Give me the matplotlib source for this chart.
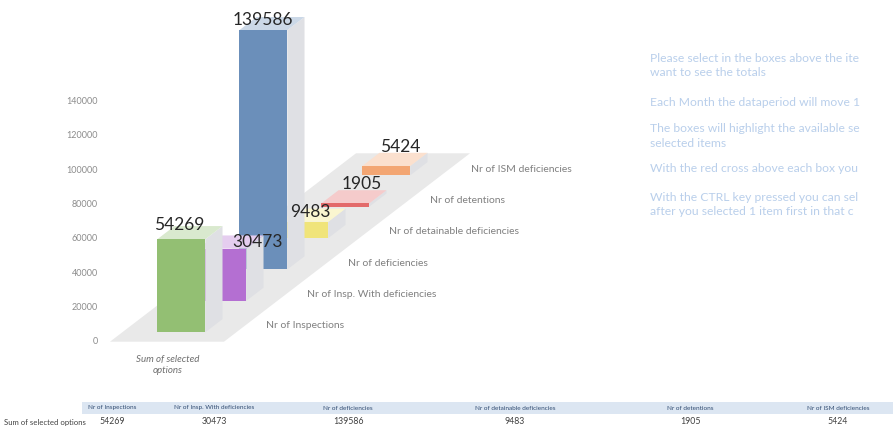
"""plot.py - pseudo-3D column chart of the selected inspection totals."""

import matplotlib.pyplot as plt
from matplotlib.colors import to_rgb
from matplotlib.patches import Polygon, Rectangle

categories = [
    "Nr of Inspections",
    "Nr of Insp. With deficiencies",
    "Nr of deficiencies",
    "Nr of detainable deficiencies",
    "Nr of detentions",
    "Nr of ISM deficiencies",
]
values = [54269, 30473, 139586, 9483, 1905, 5424]
y_ticks = [0, 20000, 40000, 60000, 80000, 100000, 120000, 140000]
row_label = "Sum of selected options"
# the help text runs off the right edge of the screenshot; keep what is visible
notes = [
    "Please select in the boxes above the ite",
    "want to see the totals",
    "Each Month the dataperiod will move 1",
    "The boxes will highlight the available se",
    "selected items",
    "With the red cross above each box you",
    "With the CTRL key pressed you can sel",
    "after you selected 1 item first in that c",
]

# ── Styling / geometry ──────────────────────────────────────────────────────
W, H = 895, 432
COLORS = ["#93bf73", "#b46fd2", "#6b8fba", "#f0e47a", "#e36a6a", "#f3a673"]
FONT = ["Lato", "DejaVu Sans"]
PX = 140000 / 240       # value units per pixel on the front wall
ZERO_PIX = 341.7        # pixel row of the 0 tick
DX = 41                 # depth step, horizontal pixels
DY = 31.4 * PX          # depth step, vertical (value units)
BAR_X0, BAR_W = 145, 48
FLOOR_X = (110, 224)
LABEL_DX = [-2, 35, 0, 6, 16, 14]     # value label shift (px) from bar top centre
LABEL_UP = [14, 7, 10, 10, 19, 19]    # value label lift (px) above bar top
NOTE_Y = [58, 72, 103, 129, 144, 168, 197, 212]
TABLE_X = [112, 214, 348, 515, 690, 838]


def proj(x, d, v):
    return (x + d * DX, v + d * DY)


def tint(c, t, base=(1, 1, 1)):
    r = to_rgb(c)
    return tuple(a * (1 - t) + b * t for a, b in zip(r, base))


plt.rcParams["font.family"] = FONT
fig = plt.figure(figsize=(W / 100, H / 100), dpi=100)
fig.patch.set_facecolor("white")
ax = fig.add_axes([0, 0, 1, 1])
ax.axis("off")
ax.set_xlim(0, W)
ax.set_ylim(-(H - ZERO_PIX) * PX, ZERO_PIX * PX)

# ── Floor ────────────────────────────────────────────────────────────────────
n = len(values)
fx0, fx1 = FLOOR_X
floor = [proj(fx0, 0, 0), proj(fx1, 0, 0), proj(fx1, n, 0), proj(fx0, n, 0)]
ax.add_patch(Polygon(floor, closed=True, facecolor="#e9e9e9", edgecolor="none", zorder=1))

# ── Y ticks ──────────────────────────────────────────────────────────────────
for t in y_ticks:
    ax.text(98, t, f"{t}", ha="right", va="center", fontsize=6.5, color="#8c8c8c")

# ── Bars (back to front) ─────────────────────────────────────────────────────
for i in reversed(range(n)):
    v, c = values[i], COLORS[i]
    d0, d1 = i + 0.3, i + 0.72
    x0, x1 = BAR_X0, BAR_X0 + BAR_W
    z = 2 + (n - i) * 3
    side = [proj(x1, d0, 0), proj(x1, d1, 0), proj(x1, d1, v), proj(x1, d0, v)]
    top = [proj(x0, d0, v), proj(x1, d0, v), proj(x1, d1, v), proj(x0, d1, v)]
    front = [proj(x0, d0, 0), proj(x1, d0, 0), proj(x1, d0, v), proj(x0, d0, v)]
    ax.add_patch(Polygon(side, facecolor="#dfe0e4", edgecolor="none", zorder=z))
    ax.add_patch(Polygon(top, facecolor=tint(c, 0.65), edgecolor="none", zorder=z))
    ax.add_patch(Polygon(front, facecolor=c, edgecolor="none", zorder=z + 1))

# value labels on top of everything
for i, v in enumerate(values):
    cx, cy = proj(BAR_X0 + BAR_W / 2, i + 0.3, v)
    ax.text(cx + LABEL_DX[i], cy + LABEL_UP[i] * PX, f"{v}", ha="center", va="center",
            fontsize=12.5, color="#262626", zorder=40)

# ── Category labels along the floor edge ────────────────────────────────────
for i, lab in enumerate(categories):
    x, y = proj(fx1 + 22, i + 0.5, 0)
    ax.text(x, y, lab, ha="left", va="center", fontsize=7.5, color="#808080")

ax.text(168, -(365 - ZERO_PIX) * PX, "Sum of selected\noptions", ha="center", va="center",
        fontsize=7, style="italic", color="#6f6f6f", linespacing=1.4)

# ── Notes on the right ───────────────────────────────────────────────────────
for txt, py in zip(notes, NOTE_Y):
    fig.text(650 / W, 1 - py / H, txt, ha="left", va="center", fontsize=8.7, color="#b9cfeb")

# ── Table at the bottom ──────────────────────────────────────────────────────
fig.patches.append(Rectangle((82 / W, 1 - 414 / H), (W - 84) / W, 12 / H,
                             transform=fig.transFigure, facecolor="#dce6f2",
                             edgecolor="none"))
for x, lab, v in zip(TABLE_X, categories, values):
    fig.text(x / W, 1 - 408 / H, lab, ha="center", va="center", fontsize=4.6, color="#2f4a70")
    fig.text(x / W, 1 - 422 / H, f"{v}", ha="center", va="center", fontsize=6.3, color="#404040")
fig.text(4 / W, 1 - 422 / H, row_label, ha="left", va="center", fontsize=5.6, color="#404040")

fig.savefig("out.png", dpi=100, facecolor="white")
